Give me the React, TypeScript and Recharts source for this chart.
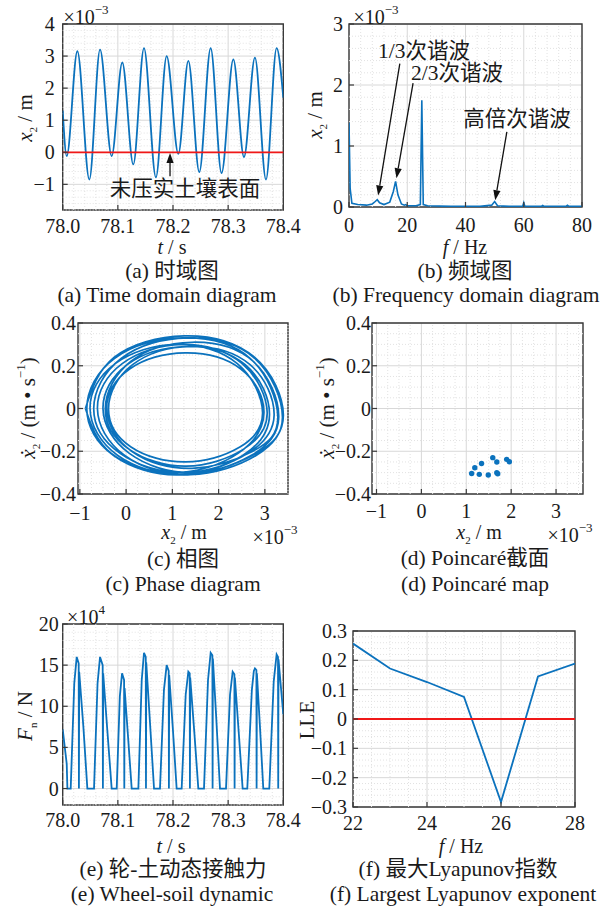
import React from "react"
import {
  LineChart, ScatterChart, Line, Scatter, XAxis, YAxis,
  CartesianGrid, ReferenceLine, ReferenceArea,
} from "recharts"

// ── data ──────────────────────────────────────────────────────────────────────

// (a) displacement x2 (×10^-3 m), extrema
const timeA = [78.0, 78.0073, 78.0266, 78.0483, 78.0677, 78.0888, 78.108, 78.128, 78.1474, 78.169, 78.1885,
  78.2097, 78.2278, 78.2477, 78.2683, 78.288, 78.3094, 78.3287, 78.3486, 78.3686, 78.3879, 78.4]
const dispA = [1.3, -0.12, 3.15, -0.85, 3.2, -0.12, 2.8, -0.38, 3.25, -0.78, 3.0,
  -0.05, 2.85, -0.62, 3.25, -0.65, 2.9, -0.15, 2.95, -0.85, 3.25, 1.7]

// (b) spectrum
const freqB = [0, 0.4, 1, 3, 6, 8, 9, 9.7, 10.5, 12, 14, 15.2, 16, 16.8, 18, 19, 19.5, 20, 23, 24.5, 25, 25.5,
  27, 35, 45, 49, 50, 51, 55, 59.6, 60, 60.4, 66, 66.5, 67, 74.5, 75, 75.5, 80]
const ampB = [1.38, 0.3, 0.06, 0.04, 0.03, 0.05, 0.09, 0.12, 0.07, 0.04, 0.08, 0.25, 0.42, 0.2, 0.05, 0.03, 0.04, 0.02,
  0.02, 0.04, 1.75, 0.04, 0.02, 0.01, 0.01, 0.03, 0.09, 0.02, 0.01, 0.01, 0.07, 0.01, 0.01, 0.025, 0.01, 0.01, 0.03, 0.01, 0.01]

// (c) phase trajectory (x2 ×10^-3 m, velocity m/s)
const phaseX = [
  -0.88, -0.255, 1.26, 2.775, 3.4, 2.81, 1.39, -0.03,
  -0.62, -0.084, 1.215, 2.51, 3.05, 2.54, 1.3, 0.06,
  -0.45, 0.1, 1.425, 2.75, 3.3, 2.7, 1.26, -0.18,
  -0.78, -0.235, 1.085, 2.405, 2.95, 2.46, 1.285, 0.106,
  -0.38, 0.14, 1.41, 2.68, 3.2, 2.63, 1.25, -0.13,
  -0.7, -0.1, 1.34, 2.78, 3.38, 2.81, 1.44, 0.07,
  -0.5, 0.025, 1.3, 2.575, 3.1, 2.52, 1.125, -0.27,
  -0.85, -0.247, 1.215, 2.68, 3.28, 2.74, 1.43, 0.12,
  -0.42, 0.076, 1.28, 2.48, 2.98, 2.42, 1.05, -0.32, -0.88,
]
const phaseV = [
  0, 0.24, 0.34, 0.24, -0.03, -0.22, -0.31, -0.22,
  0, 0.21, 0.3, 0.21, -0.02, -0.19, -0.27, -0.19,
  0, 0.22, 0.31, 0.22, -0.04, -0.22, -0.31, -0.22,
  0, 0.21, 0.3, 0.21, -0.02, -0.18, -0.25, -0.18,
  0, 0.205, 0.29, 0.205, -0.03, -0.21, -0.3, -0.21,
  0, 0.235, 0.33, 0.235, -0.04, -0.21, -0.3, -0.21,
  0, 0.205, 0.29, 0.205, -0.03, -0.22, -0.31, -0.22,
  0, 0.235, 0.33, 0.235, -0.04, -0.2, -0.28, -0.2,
  0, 0.185, 0.26, 0.185, -0.02, -0.21, -0.3, -0.21, 0,
]

// (d) Poincaré points
const poinX = [1.12, 1.19, 1.29, 1.34, 1.49, 1.59, 1.68, 1.68, 1.7, 1.9, 1.96]
const poinV = [-0.304, -0.277, -0.308, -0.257, -0.311, -0.23, -0.25, -0.3, -0.305, -0.238, -0.249]

// (e) wheel-soil contact force (×10^4 N)
const timeE = [78.0, 78.0073, 78.0085,
  78.0145, 78.021, 78.0254, 78.029, 78.0294, 78.0299, 78.0375, 78.0447,
  78.0568, 78.0632, 78.0677, 78.0725, 78.0729, 78.0734, 78.081, 78.0888,
  78.0979, 78.1036, 78.1076, 78.1113, 78.1117, 78.1122, 78.119, 78.1251,
  78.1372, 78.1433, 78.1474, 78.1506, 78.151, 78.1515, 78.1583, 78.1656,
  78.1764, 78.1836, 78.1885, 78.1922, 78.1926, 78.1931, 78.2, 78.2066,
  78.2157, 78.223, 78.2278, 78.2303, 78.2307, 78.2312, 78.2387, 78.2459,
  78.2562, 78.2635, 78.2683, 78.2714, 78.2718, 78.2723, 78.2785, 78.2852,
  78.2961, 78.3034, 78.3082, 78.3113, 78.3117, 78.3122, 78.319, 78.3263,
  78.3347, 78.343, 78.3466, 78.3486, 78.3512, 78.3516, 78.3521, 78.3577, 78.3637,
  78.3746, 78.3826, 78.3879, 78.3904, 78.3908, 78.3913, 78.4]
const forceE = [7.2, 3.0, 0,
  0, 12.8, 16.0, 15.2, 0, 14.2, 7.5, 0,
  0, 12.8, 16.0, 15.0, 0, 14.0, 7.0, 0,
  0, 11.2, 14.0, 13.2, 0, 12.2, 5.8, 0,
  0, 13.2, 16.5, 16.0, 0, 15.3, 8.0, 0,
  0, 12.0, 15.0, 14.3, 0, 13.8, 7.0, 0,
  0, 11.4, 14.2, 14.0, 0, 13.5, 6.8, 0,
  0, 13.2, 16.5, 16.2, 0, 15.8, 8.5, 0,
  0, 11.4, 14.2, 13.9, 0, 13.5, 7.0, 0,
  0, 12.0, 14.3, 14.6, 14.4, 0, 14.0, 7.5, 0,
  0, 13.0, 16.3, 16.0, 0, 15.7, 9.0]

// (f) largest Lyapunov exponent
const freqF = [22, 23, 24, 25, 26, 27, 28]
const lleF = [0.257, 0.172, 0.126, 0.075, -0.283, 0.145, 0.189]

const dataA = timeA.map((t, i) => ({ t, x: dispA[i] }))
const dataB = freqB.map((f, i) => ({ f, a: ampB[i] }))
const dataC = phaseX.map((x, i) => ({ x, v: phaseV[i] }))
const dataD = poinX.map((x, i) => ({ x, v: poinV[i] }))
const dataE = timeE.map((t, i) => ({ t, F: forceE[i] }))
const dataF = freqF.map((f, i) => ({ f, lle: lleF[i] }))

// ── styling helpers ──────────────────────────────────────────────────────────

const FONT = '"Liberation Serif", "Times New Roman", "Noto Sans CJK SC", serif'
const BLUE = "#0b72bd"
const RED = "#f01818"
const FRAME = "#3a3a3a"
const MAJOR = "#d8d8d8"
const MINOR = "#e2e2e2"
const FS = 20   // tick labels
const TS = 21.5 // captions

const minus = (s: string) => s.replace("-", "\u2212")

function minorVals(from: number, to: number, step: number, major: number) {
  const out: number[] = []
  for (let k = 0; from + k * step <= to + 1e-9; k++) {
    const v = Math.round((from + k * step) * 1e6) / 1e6
    const q = v / major
    if (Math.abs(q - Math.round(q)) > 1e-6) out.push(v)
  }
  return out
}

function yTick(margin: number, fmt: (v: number) => string) {
  return (p: any) => {
    const ax = p.x + margin
    return (
      <g>
        <line x1={ax} x2={ax + 5} y1={p.y} y2={p.y} stroke={FRAME} strokeWidth={1.2} />
        <text x={p.x} y={p.y} dy="0.35em" textAnchor="end" fontSize={FS} fontFamily={FONT}
          style={{ fontFamily: FONT }} fill="#1a1a1a">
          {fmt(p.payload.value)}
        </text>
      </g>
    )
  }
}

function xTick(margin: number, fmt: (v: number) => string) {
  return (p: any) => {
    const ay = p.y - margin
    return (
      <g>
        <line x1={p.x} x2={p.x} y1={ay} y2={ay - 5} stroke={FRAME} strokeWidth={1.2} />
        <text x={p.x} y={p.y} dy="0.71em" textAnchor="middle" fontSize={FS} fontFamily={FONT}
          style={{ fontFamily: FONT }} fill="#1a1a1a">
          {fmt(p.payload.value)}
        </text>
      </g>
    )
  }
}

const arrowShape = (p: any) => {
  const { x1, y1, x2, y2 } = p
  const ang = Math.atan2(y2 - y1, x2 - x1)
  const L = 10, W = 3.6
  const bx = x2 - L * Math.cos(ang), by = y2 - L * Math.sin(ang)
  const px = -Math.sin(ang) * W, py = Math.cos(ang) * W
  return (
    <g>
      <line x1={x1} y1={y1} x2={bx} y2={by} stroke="#111" strokeWidth={1.3} />
      <polygon points={`${x2},${y2} ${bx + px},${by + py} ${bx - px},${by - py}`} fill="#111" />
    </g>
  )
}

function Txt({ x, y, rotate = false, size = TS, children }: any) {
  return (
    <div
      style={{
        position: "absolute", left: x, top: y, fontSize: size, lineHeight: 1, whiteSpace: "nowrap",
        transform: `translate(-50%, -50%)${rotate ? " rotate(-90deg)" : ""}`,
      }}
    >
      {children}
    </div>
  )
}

const Sup = ({ children }: any) => (
  <sup style={{ fontSize: 13, lineHeight: 0, position: "relative", top: -2 }}>{children}</sup>
)
const Sub = ({ children }: any) => (
  <sub style={{ fontSize: 11, lineHeight: 0 }}>{children}</sub>
)

const Frame = ({ x, y }: { x: number[]; y: number[] }) => (
  <ReferenceArea x1={x[0]} x2={x[1]} y1={y[0]} y2={y[1]} fill="none" stroke={FRAME} strokeWidth={1.4} ifOverflow="visible" />
)

// ── panels ───────────────────────────────────────────────────────────────────

function PanelA() {
  const xd = [78.0, 78.4], yd = [-1.8, 4]
  return (
    <LineChart width={290} height={240} data={dataA} margin={{ top: 24, right: 6.7, left: 0, bottom: 0 }}>
      {minorVals(78.0, 78.4, 0.02, 0.1).map((v) => (
        <ReferenceLine key={"mx" + v} x={v} stroke={MINOR} strokeDasharray="1 2" />
      ))}
      {minorVals(-1.8, 4, 0.2, 1).map((v) => (
        <ReferenceLine key={"my" + v} y={v} stroke={MINOR} strokeDasharray="1 2" />
      ))}
      <CartesianGrid stroke={MAJOR} />
      <XAxis dataKey="t" type="number" domain={xd} allowDataOverflow ticks={[78.0, 78.1, 78.2, 78.3, 78.4]}
        interval={0} height={30} tickSize={0} tickMargin={9} axisLine={false} tick={xTick(9, (v) => v.toFixed(1))} />
      <YAxis type="number" domain={yd} allowDataOverflow ticks={[-1, 0, 1, 2, 3, 4]} interval={0} width={62.7}
        tickSize={0} tickMargin={8} axisLine={false} tick={yTick(8, (v) => minus(String(v)))} />
      <Line dataKey="x" type="monotone" stroke={BLUE} strokeWidth={1.8} dot={false} isAnimationActive={false} />
      <ReferenceLine y={0} stroke={RED} strokeWidth={1.8} />
      <ReferenceLine segment={[{ x: 78.1946, y: -0.75 }, { x: 78.1946, y: -0.02 }]} shape={arrowShape} ifOverflow="visible" />
      <Frame x={xd} y={yd} />
    </LineChart>
  )
}

function PanelB() {
  const xd = [0, 80], yd = [0, 3]
  return (
    <LineChart width={290} height={240} data={dataB} margin={{ top: 24, right: 8, left: 0, bottom: 0 }}>
      {minorVals(0, 80, 4, 20).map((v) => (
        <ReferenceLine key={"mx" + v} x={v} stroke={MINOR} strokeDasharray="1 2" />
      ))}
      {minorVals(0, 3, 0.2, 1).map((v) => (
        <ReferenceLine key={"my" + v} y={v} stroke={MINOR} strokeDasharray="1 2" />
      ))}
      <CartesianGrid stroke={MAJOR} />
      <XAxis dataKey="f" type="number" domain={xd} allowDataOverflow ticks={[0, 20, 40, 60, 80]} interval={0}
        height={33} tickSize={0} tickMargin={11} axisLine={false} tick={xTick(11, (v) => String(v))} />
      <YAxis type="number" domain={yd} allowDataOverflow ticks={[0, 1, 2, 3]} interval={0} width={49}
        tickSize={0} tickMargin={6} axisLine={false} tick={yTick(6, (v) => String(v))} />
      <Line dataKey="a" type="linear" stroke={BLUE} strokeWidth={1.6} dot={false} isAnimationActive={false} />
      <ReferenceLine segment={[{ x: 17.45, y: 2.35 }, { x: 10.0, y: 0.19 }]} shape={arrowShape} ifOverflow="visible" />
      <ReferenceLine segment={[{ x: 22.0, y: 2.03 }, { x: 16.3, y: 0.47 }]} shape={arrowShape} ifOverflow="visible" />
      <ReferenceLine segment={[{ x: 54.2, y: 1.23 }, { x: 50.2, y: 0.11 }]} shape={arrowShape} ifOverflow="visible" />
      <Frame x={xd} y={yd} />
    </LineChart>
  )
}

function PanelC() {
  const xd = [-1.04, 3.5], yd = [-0.4, 0.4]
  return (
    <LineChart width={295} height={230} data={dataC} margin={{ top: 23, right: 7, left: 0, bottom: 0 }}>
      {minorVals(-1, 3.5, 0.25, 1).map((v) => (
        <ReferenceLine key={"mx" + v} x={v} stroke={MINOR} strokeDasharray="1 2" />
      ))}
      {minorVals(-0.4, 0.4, 0.05, 0.2).map((v) => (
        <ReferenceLine key={"my" + v} y={v} stroke={MINOR} strokeDasharray="1 2" />
      ))}
      <CartesianGrid stroke={MAJOR} />
      <XAxis dataKey="x" type="number" domain={xd} allowDataOverflow ticks={[-1, 0, 1, 2, 3]} interval={0}
        height={36} tickSize={0} tickMargin={12} axisLine={false} tick={xTick(12, (v) => minus(String(v)))} />
      <YAxis type="number" domain={yd} allowDataOverflow ticks={[-0.4, -0.2, 0, 0.2, 0.4]} interval={0} width={78}
        tickSize={0} tickMargin={2} axisLine={false} tick={yTick(2, (v) => minus(String(v)))} />
      <Line dataKey="v" type="natural" stroke={BLUE} strokeWidth={1.7} dot={false} isAnimationActive={false} />
      <Frame x={xd} y={yd} />
    </LineChart>
  )
}

function PanelD() {
  const xd = [-1.1, 3.6], yd = [-0.4, 0.4]
  return (
    <ScatterChart width={295} height={230} margin={{ top: 23, right: 12, left: 0, bottom: 0 }}>
      {minorVals(-1, 3.5, 0.25, 1).map((v) => (
        <ReferenceLine key={"mx" + v} x={v} stroke={MINOR} strokeDasharray="1 2" />
      ))}
      {minorVals(-0.4, 0.4, 0.05, 0.2).map((v) => (
        <ReferenceLine key={"my" + v} y={v} stroke={MINOR} strokeDasharray="1 2" />
      ))}
      <CartesianGrid stroke={MAJOR} />
      <XAxis dataKey="x" type="number" domain={xd} allowDataOverflow ticks={[-1, 0, 1, 2, 3]} interval={0}
        height={36} tickSize={0} tickMargin={10} axisLine={false} tick={xTick(10, (v) => minus(String(v)))} />
      <YAxis dataKey="v" type="number" domain={yd} allowDataOverflow ticks={[-0.4, -0.2, 0, 0.2, 0.4]} interval={0}
        width={72} tickSize={0} tickMargin={1} axisLine={false} tick={yTick(1, (v) => minus(String(v)))} />
      <Scatter data={dataD} fill={BLUE} isAnimationActive={false}
        shape={(p: any) => <circle cx={p.cx} cy={p.cy} r={2.7} fill={BLUE} />} />
      <Frame x={xd} y={yd} />
    </ScatterChart>
  )
}

function PanelE() {
  const xd = [78.0, 78.4], yd = [-2, 20]
  return (
    <LineChart width={290} height={240} data={dataE} margin={{ top: 24, right: 6.7, left: 0, bottom: 0 }}>
      {minorVals(78.0, 78.4, 0.02, 0.1).map((v) => (
        <ReferenceLine key={"mx" + v} x={v} stroke={MINOR} strokeDasharray="1 2" />
      ))}
      {minorVals(-2, 20, 1, 5).map((v) => (
        <ReferenceLine key={"my" + v} y={v} stroke={MINOR} strokeDasharray="1 2" />
      ))}
      <CartesianGrid stroke={MAJOR} />
      <XAxis dataKey="t" type="number" domain={xd} allowDataOverflow ticks={[78.0, 78.1, 78.2, 78.3, 78.4]}
        interval={0} height={35} tickSize={0} tickMargin={8} axisLine={false} tick={xTick(8, (v) => v.toFixed(1))} />
      <YAxis type="number" domain={yd} allowDataOverflow ticks={[0, 5, 10, 15, 20]} interval={0} width={62.7}
        tickSize={0} tickMargin={4} axisLine={false} tick={yTick(4, (v) => String(v))} />
      <Line dataKey="F" type="linear" stroke={BLUE} strokeWidth={1.8} dot={false} isAnimationActive={false} />
      <Frame x={xd} y={yd} />
    </LineChart>
  )
}

function PanelF() {
  const xd = [22, 28], yd = [-0.3, 0.3]
  return (
    <LineChart width={290} height={240} data={dataF} margin={{ top: 31, right: 15, left: 0, bottom: 0 }}>
      {minorVals(22, 28, 0.5, 2).map((v) => (
        <ReferenceLine key={"mx" + v} x={v} stroke={MINOR} strokeDasharray="1 2" />
      ))}
      {minorVals(-0.3, 0.3, 0.02, 0.1).map((v) => (
        <ReferenceLine key={"my" + v} y={v} stroke={MINOR} strokeDasharray="1 2" />
      ))}
      <CartesianGrid stroke={MAJOR} />
      <XAxis dataKey="f" type="number" domain={xd} allowDataOverflow ticks={[22, 24, 26, 28]} interval={0}
        height={33} tickSize={0} tickMargin={9} axisLine={false} tick={xTick(9, (v) => String(v))} />
      <YAxis type="number" domain={yd} allowDataOverflow ticks={[-0.3, -0.2, -0.1, 0, 0.1, 0.2, 0.3]} interval={0}
        width={53} tickSize={0} tickMargin={6} axisLine={false} tick={yTick(6, (v) => minus(String(v)))} />
      <Line dataKey="lle" type="linear" stroke={BLUE} strokeWidth={1.8} dot={false} isAnimationActive={false} />
      <ReferenceLine y={0} stroke={RED} strokeWidth={1.8} />
      <Frame x={xd} y={yd} />
    </LineChart>
  )
}

// ── page ─────────────────────────────────────────────────────────────────────

const at = (left: number, top: number) => ({ position: "absolute" as const, left, top })

const css = `
.recharts-surface { overflow: visible; }
.recharts-wrapper text { font-family: "Liberation Serif", "Times New Roman", "Noto Sans CJK SC", serif; }
`

export default function App() {
  const x2 = <><i>x</i><Sub>2</Sub></>
  const xd2 = <><i>ẋ</i><Sub>2</Sub></>
  return (
    <div style={{ position: "absolute", left: 0, top: 0, width: 607, height: 908, background: "#fff",
      fontFamily: FONT, color: "#1a1a1a", overflow: "hidden" }}>
      <style>{css}</style>
      <div style={at(0, 0)}><PanelA /></div>
      <div style={at(300, 0)}><PanelB /></div>
      <div style={at(0, 300)}><PanelC /></div>
      <div style={at(300, 300)}><PanelD /></div>
      <div style={at(0, 600)}><PanelE /></div>
      <div style={at(300, 600)}><PanelF /></div>

      {/* (a) */}
      <Txt x={86} y={17} size={20}>×10<Sup>−3</Sup></Txt>
      <Txt x={25} y={118} size={21} rotate>{x2} / m</Txt>
      <Txt x={172} y={247} size={20}><i>t</i> / s</Txt>
      <Txt x={185} y={190}>未压实土壤表面</Txt>
      <Txt x={172} y={272}>(a) 时域图</Txt>
      <Txt x={167} y={296}>(a) Time domain diagram</Txt>

      {/* (b) */}
      <Txt x={376} y={17} size={20}>×10<Sup>−3</Sup></Txt>
      <Txt x={315} y={115} size={21} rotate>{x2} / m</Txt>
      <Txt x={465} y={247} size={20}><i>f</i> / Hz</Txt>
      <Txt x={424} y={52}>1/3次谐波</Txt>
      <Txt x={457} y={74}>2/3次谐波</Txt>
      <Txt x={517} y={120}>高倍次谐波</Txt>
      <Txt x={465} y={272}>(b) 频域图</Txt>
      <Txt x={466} y={296}>(b) Frequency domain diagram</Txt>

      {/* (c) */}
      <Txt x={28} y={408} size={21} rotate>{xd2} / (m • s<Sup>−1</Sup>)</Txt>
      <Txt x={184} y={532} size={20}>{x2} / m</Txt>
      <Txt x={275} y={537} size={20}>×10<Sup>−3</Sup></Txt>
      <Txt x={183} y={560}>(c) 相图</Txt>
      <Txt x={183} y={585}>(c) Phase diagram</Txt>

      {/* (d) */}
      <Txt x={327} y={408} size={21} rotate>{xd2} / (m • s<Sup>−1</Sup>)</Txt>
      <Txt x={479} y={532} size={20}>{x2} / m</Txt>
      <Txt x={570} y={535} size={20}>×10<Sup>−3</Sup></Txt>
      <Txt x={475} y={559}>(d) Poincaré截面</Txt>
      <Txt x={475} y={585}>(d) Poincaré map</Txt>

      {/* (e) */}
      <Txt x={86} y={617} size={20}>×10<Sup>4</Sup></Txt>
      <Txt x={25} y={716} size={21} rotate><i>F</i><Sub>n</Sub> / N</Txt>
      <Txt x={171} y={846} size={20}><i>t</i> / s</Txt>
      <Txt x={173} y={870}>(e) 轮-土动态接触力</Txt>
      <Txt x={172} y={895}>(e) Wheel-soil dynamic</Txt>

      {/* (f) */}
      <Txt x={307} y={720} size={21} rotate>LLE</Txt>
      <Txt x={461} y={846} size={20}><i>f</i> / Hz</Txt>
      <Txt x={458} y={870}>(f) 最大Lyapunov指数</Txt>
      <Txt x={463} y={895}>(f) Largest Lyapunov exponent</Txt>
    </div>
  )
}
